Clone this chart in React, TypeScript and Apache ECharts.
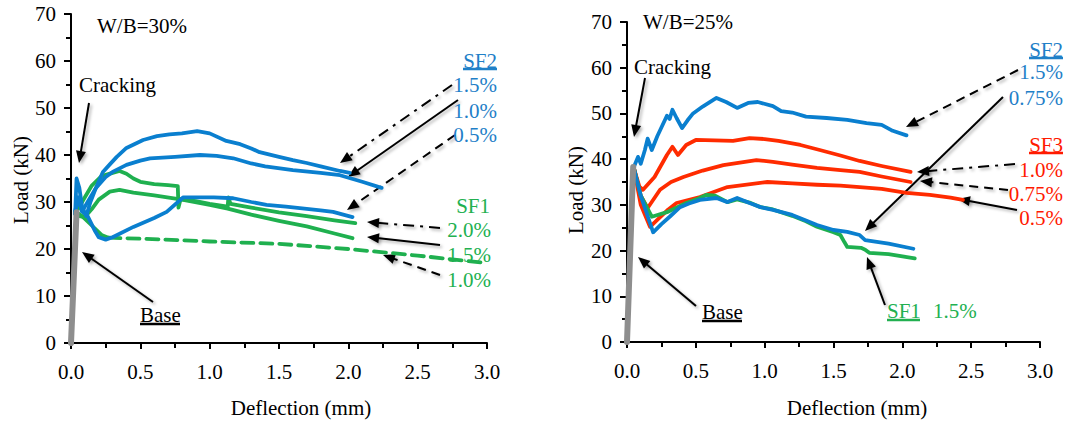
import React, { useEffect, useRef } from "react";
import * as echarts from "echarts";

// ---------- DATA (deflection mm, load kN) ----------
// Panel 1: W/B = 30%
const base30: number[][] = [[0, 0], [0.04, 27.8]];
const sf2_15_30: number[][] = [[0.03, 27.5], [0.04, 35], [0.06, 33], [0.08, 29], [0.11, 27], [0.14, 30], [0.18, 33], [0.23, 36.4], [0.28, 38], [0.33, 39.6], [0.4, 41.5], [0.52, 43.2], [0.62, 44], [0.71, 44.4], [0.8, 44.6], [0.91, 45.1], [1.0, 44.6], [1.12, 43], [1.22, 42.3], [1.3, 41.4], [1.36, 40.6], [1.5, 39.6], [1.6, 38.9], [1.7, 38.3], [1.8, 37.6], [1.94, 36.6], [2.01, 36.2]];
const sf2_10_30: number[][] = [[0.03, 27.5], [0.05, 31], [0.08, 28], [0.12, 30], [0.18, 33], [0.25, 35.3], [0.3, 36.4], [0.4, 37.9], [0.5, 38.8], [0.57, 39.3], [0.75, 39.6], [0.93, 40], [1.05, 39.8], [1.17, 39.3], [1.3, 38.2], [1.4, 37.6], [1.6, 36.8], [1.8, 36.2], [1.94, 35.7], [2.1, 34.3], [2.24, 33]];
const sf2_05_30: number[][] = [[0.03, 28], [0.05, 31], [0.08, 28], [0.12, 27], [0.17, 24], [0.2, 22.5], [0.25, 22], [0.3, 22.5], [0.45, 24.7], [0.6, 26.6], [0.69, 27.9], [0.81, 31], [0.9, 31], [1.03, 31], [1.17, 30.8], [1.3, 30], [1.41, 29.4], [1.55, 29], [1.65, 28.7], [1.8, 28.2], [1.89, 27.9], [2.03, 26.8]];
const sf1_20_30: number[][] = [[0.03, 27.5], [0.06, 29], [0.1, 31], [0.15, 33.5], [0.22, 35.5], [0.3, 36.2], [0.35, 36.6], [0.4, 36], [0.45, 35], [0.5, 34.3], [0.6, 33.8], [0.7, 33.6], [0.77, 33.4], [0.775, 28.8], [0.79, 30.6], [0.9, 30.2], [1.0, 29.6], [1.13, 29], [1.135, 31], [1.15, 29.6], [1.3, 28.8], [1.5, 27.8], [1.7, 27], [1.9, 26.1], [2.05, 25.5]];
const sf1_15_30: number[][] = [[0.03, 27.5], [0.06, 27], [0.1, 26.8], [0.15, 28.5], [0.2, 30.5], [0.28, 32.2], [0.35, 32.6], [0.45, 32], [0.6, 31.4], [0.8, 30.5], [1.0, 29.4], [1.13, 28.6], [1.3, 27.3], [1.5, 26], [1.7, 24.8], [1.9, 23.3], [2.03, 22.3]];
const sf1_10_30_drop: number[][] = [[0.03, 28], [0.08, 27], [0.15, 25], [0.22, 23], [0.27, 22.4]];
const sf1_10_30_tail: number[][] = [[0.27, 22.4], [0.5, 22.2], [1.0, 21.6], [1.5, 21.1], [2.0, 20.0], [2.5, 18.6], [3.0, 17.0]];

// Panel 2: W/B = 25%
const base25: number[][] = [[0, 0], [0.045, 38.3]];
const sf2_15_25: number[][] = [[0.05, 38.3], [0.08, 40.5], [0.1, 39], [0.13, 42], [0.15, 44.5], [0.18, 42], [0.22, 45], [0.29, 49.5], [0.31, 48.8], [0.33, 50.8], [0.36, 49], [0.4, 46.8], [0.44, 48.5], [0.48, 50], [0.55, 51.5], [0.65, 53.4], [0.72, 52.5], [0.8, 51.2], [0.88, 52.3], [0.95, 52.5], [1.06, 51.6], [1.12, 50.5], [1.2, 50.2], [1.3, 49.3], [1.45, 49], [1.6, 48.6], [1.74, 47.9], [1.85, 47.5], [1.93, 46.2], [2.03, 45.2]];
const sf2_075_25: number[][] = [[0.05, 38], [0.1, 32], [0.19, 24], [0.25, 25.8], [0.31, 27.4], [0.385, 29.5], [0.45, 30.3], [0.53, 31.1], [0.65, 31.5], [0.73, 30.6], [0.8, 31.5], [0.89, 30.4], [0.97, 29.5], [1.06, 28.9], [1.2, 27.8], [1.3, 26.6], [1.38, 25.6], [1.5, 24.5], [1.6, 24.1], [1.69, 23.4], [1.73, 22.3], [1.9, 21.5], [2.08, 20.4]];
const sf3_10_25: number[][] = [[0.05, 38], [0.09, 34], [0.116, 33.3], [0.2, 36.1], [0.29, 40.9], [0.33, 42.7], [0.37, 40.9], [0.43, 43.1], [0.5, 44.2], [0.77, 44], [0.89, 44.6], [1.0, 44.4], [1.1, 44], [1.26, 43.1], [1.4, 42], [1.55, 40.8], [1.69, 39.6], [1.85, 38.5], [2.06, 37.2]];
const sf3_075_25: number[][] = [[0.05, 38], [0.1, 32], [0.15, 29.3], [0.24, 33.3], [0.32, 35], [0.41, 36.1], [0.55, 37.5], [0.7, 38.7], [0.94, 39.8], [1.06, 39.4], [1.2, 38.8], [1.38, 38.1], [1.55, 37.6], [1.69, 37.2], [1.85, 36.2], [2.06, 35]];
const sf3_05_25: number[][] = [[0.05, 38], [0.1, 30], [0.167, 25.2], [0.22, 26.7], [0.3, 29], [0.36, 30.4], [0.53, 31.7], [0.73, 33.9], [1.02, 35], [1.2, 34.7], [1.38, 34.4], [1.55, 34.2], [1.69, 33.9], [1.85, 33.5], [2.03, 32.6], [2.2, 32.2], [2.35, 31.6], [2.44, 31.1]];
const sf1_15_25: number[][] = [[0.05, 38], [0.1, 32], [0.18, 27.4], [0.29, 28.4], [0.43, 30.4], [0.52, 31.4], [0.58, 32.2], [0.64, 32], [0.73, 30.6], [0.8, 31.2], [0.89, 30.5], [0.97, 29.5], [1.06, 29], [1.2, 27.6], [1.3, 26.4], [1.38, 25.2], [1.5, 24], [1.55, 23.4], [1.58, 21.8], [1.6, 20.8], [1.7, 20.6], [1.73, 20.2], [1.76, 19.5], [1.9, 19.2], [2.09, 18.3]];

// ---------- STYLE ----------
const BLUE = "#0a7fcf";
const BLUE_T = "#1f80c8";
const GREEN = "#1fb04f";
const GREEN_T = "#22b050";
const RED = "#ff2b00";
const RED_T = "#ff1a00";
const GRAY = "#8e8e8e";
const FONT = "'Liberation Serif', 'Times New Roman', 'DejaVu Serif', serif";
const FS = 21;

type Arrow = { x1: number; y1: number; x2: number; y2: number; dash: number[] | null };
const SOLID = null;
const DASH = [9, 6];
const DASHDOT = [11, 6, 3, 6];

const ARROWS: Arrow[] = [
  { x1: 89, y1: 103, x2: 79, y2: 163, dash: SOLID },
  { x1: 153, y1: 302, x2: 82, y2: 252, dash: SOLID },
  { x1: 452, y1: 85, x2: 340, y2: 163, dash: DASHDOT },
  { x1: 458, y1: 100, x2: 348, y2: 177, dash: SOLID },
  { x1: 455, y1: 135, x2: 347, y2: 210, dash: DASH },
  { x1: 440, y1: 228, x2: 367, y2: 222, dash: DASHDOT },
  { x1: 440, y1: 245, x2: 367, y2: 237, dash: SOLID },
  { x1: 440, y1: 275, x2: 383, y2: 255, dash: DASH },
  { x1: 645, y1: 78, x2: 634, y2: 137, dash: SOLID },
  { x1: 696, y1: 306, x2: 638, y2: 257, dash: SOLID },
  { x1: 1018, y1: 70, x2: 906, y2: 127, dash: DASH },
  { x1: 1003, y1: 97, x2: 865, y2: 231, dash: SOLID },
  { x1: 1015, y1: 164, x2: 917, y2: 172, dash: DASHDOT },
  { x1: 1008, y1: 190, x2: 920, y2: 181, dash: DASH },
  { x1: 1017, y1: 210, x2: 958, y2: 199, dash: SOLID },
  { x1: 885, y1: 305, x2: 867, y2: 257, dash: SOLID },
];

type Label = { text: string; x: number; y: number; color: string; align: "left" | "right" | "center"; underline?: [number, number, number]; rotate?: boolean };
const LABELS: Label[] = [
  { text: "W/B=30%", x: 97, y: 26, color: "#000", align: "left" },
  { text: "Cracking", x: 79, y: 85, color: "#000", align: "left" },
  { text: "Base", x: 140, y: 315, color: "#000", align: "left", underline: [140, 180, 324] },
  { text: "SF2", x: 497, y: 61, color: BLUE_T, align: "right", underline: [463, 497, 69] },
  { text: "1.5%", x: 497, y: 85, color: BLUE_T, align: "right" },
  { text: "1.0%", x: 497, y: 111, color: BLUE_T, align: "right" },
  { text: "0.5%", x: 497, y: 135, color: BLUE_T, align: "right" },
  { text: "SF1", x: 490, y: 206, color: GREEN_T, align: "right" },
  { text: "2.0%", x: 491, y: 230, color: GREEN_T, align: "right" },
  { text: "1.5%", x: 491, y: 255, color: GREEN_T, align: "right" },
  { text: "1.0%", x: 491, y: 280, color: GREEN_T, align: "right" },
  { text: "Deflection (mm)", x: 301, y: 408, color: "#000", align: "center" },
  { text: "Load (kN)", x: 21, y: 180, color: "#000", align: "center", rotate: true },
  { text: "W/B=25%", x: 643, y: 22, color: "#000", align: "left" },
  { text: "Cracking", x: 634, y: 67, color: "#000", align: "left" },
  { text: "Base", x: 702, y: 312, color: "#000", align: "left", underline: [702, 742, 321] },
  { text: "SF2", x: 1063, y: 50, color: BLUE_T, align: "right", underline: [1029, 1063, 58] },
  { text: "1.5%", x: 1063, y: 72, color: BLUE_T, align: "right" },
  { text: "0.75%", x: 1063, y: 98, color: BLUE_T, align: "right" },
  { text: "SF3", x: 1063, y: 145, color: RED_T, align: "right", underline: [1029, 1063, 153] },
  { text: "1.0%", x: 1063, y: 170, color: RED_T, align: "right" },
  { text: "0.75%", x: 1063, y: 194, color: RED_T, align: "right" },
  { text: "0.5%", x: 1063, y: 218, color: RED_T, align: "right" },
  { text: "SF1", x: 887, y: 311, color: GREEN_T, align: "left", underline: [887, 920, 320] },
  { text: "1.5%", x: 933, y: 311, color: GREEN_T, align: "left" },
  { text: "Deflection (mm)", x: 857, y: 408, color: "#000", align: "center" },
  { text: "Load (kN)", x: 576, y: 190, color: "#000", align: "center", rotate: true },
];

function arrowGraphics(a: Arrow) {
  const dx = a.x2 - a.x1;
  const dy = a.y2 - a.y1;
  const len = Math.sqrt(dx * dx + dy * dy);
  const ux = dx / len;
  const uy = dy / len;
  const hl = 12;
  const hw = 5;
  const bx = a.x2 - ux * hl;
  const by = a.y2 - uy * hl;
  const nx = -uy;
  const ny = ux;
  const shadow = { shadowBlur: 3, shadowColor: "rgba(0,0,0,0.3)", shadowOffsetX: 2, shadowOffsetY: 2 };
  return [
    {
      type: "line",
      shape: { x1: a.x1, y1: a.y1, x2: bx + ux * 2, y2: by + uy * 2 },
      style: { stroke: "#000", lineWidth: 2, lineDash: a.dash || undefined, ...shadow },
      silent: true,
    },
    {
      type: "polygon",
      shape: { points: [[a.x2, a.y2], [bx + nx * hw, by + ny * hw], [bx - nx * hw, by - ny * hw]] },
      style: { fill: "#000", ...shadow },
      silent: true,
    },
  ];
}

function labelGraphics(l: Label) {
  const els: any[] = [
    {
      type: "text",
      x: l.x,
      y: l.y,
      rotation: l.rotate ? Math.PI / 2 : 0,
      style: {
        text: l.text,
        fill: l.color,
        fontFamily: FONT,
        fontSize: FS,
        textAlign: l.align,
        textVerticalAlign: "middle",
        verticalAlign: "middle",
      },
      silent: true,
    },
  ];
  if (l.underline) {
    els.push({
      type: "line",
      shape: { x1: l.underline[0], y1: l.underline[2], x2: l.underline[1], y2: l.underline[2] },
      style: { stroke: l.color, lineWidth: 2.5 },
      silent: true,
    });
  }
  return els;
}

function xAxisCfg(gridIndex: number) {
  return {
    type: "value",
    gridIndex,
    min: 0,
    max: 3,
    interval: 0.5,
    axisLine: { show: true, onZero: false, lineStyle: { color: "#000", width: 2 } },
    axisTick: { show: true, length: 6, lineStyle: { color: "#000", width: 2 } },
    minorTick: { show: true, splitNumber: 2, length: 5, lineStyle: { color: "#000", width: 2 } },
    splitLine: { show: false },
    minorSplitLine: { show: false },
    axisLabel: { formatter: (v: number) => v.toFixed(1), color: "#000", fontFamily: FONT, fontSize: FS, margin: 18 },
  };
}
function yAxisCfg(gridIndex: number) {
  return {
    type: "value",
    gridIndex,
    min: 0,
    max: 70,
    interval: 10,
    axisLine: { show: true, onZero: false, lineStyle: { color: "#000", width: 2 } },
    axisTick: { show: true, length: 7, lineStyle: { color: "#000", width: 2 } },
    minorTick: { show: true, splitNumber: 2, length: 5, lineStyle: { color: "#000", width: 2 } },
    splitLine: { show: false },
    minorSplitLine: { show: false },
    axisLabel: { color: "#000", fontFamily: FONT, fontSize: FS, margin: 15 },
  };
}

function line(data: number[][], idx: number, color: string, width = 3.8, dash: any = "solid", z = 2) {
  return {
    type: "line",
    xAxisIndex: idx,
    yAxisIndex: idx,
    data,
    symbol: "none",
    smooth: false,
    z,
    lineStyle: { color, width, type: dash, cap: "round", join: "round" },
    silent: true,
  };
}

export default function App() {
  const ref = useRef<HTMLDivElement>(null);
  useEffect(() => {
    if (!ref.current) return;
    const chart = echarts.init(ref.current, undefined, { renderer: "svg" });
    const graphics: any[] = [];
    ARROWS.forEach((a) => graphics.push(...arrowGraphics(a)));
    LABELS.forEach((l) => graphics.push(...labelGraphics(l)));
    chart.setOption({
      animation: false,
      backgroundColor: "#fff",
      textStyle: { fontFamily: FONT },
      grid: [
        { left: 71, top: 14, width: 416, height: 329 },
        { left: 627, top: 22, width: 413, height: 320 },
      ],
      xAxis: [xAxisCfg(0), xAxisCfg(1)],
      yAxis: [yAxisCfg(0), yAxisCfg(1)],
      series: [
        line(sf1_10_30_drop, 0, GREEN),
        line(sf1_10_30_tail, 0, GREEN, 3.8, [12, 7]),
        line(sf1_15_30, 0, GREEN),
        line(sf1_20_30, 0, GREEN),
        line(sf2_05_30, 0, BLUE),
        line(sf2_10_30, 0, BLUE),
        line(sf2_15_30, 0, BLUE),
        line(base30, 0, GRAY, 6, "solid", 3),
        line(sf3_05_25, 1, RED),
        line(sf3_075_25, 1, RED),
        line(sf3_10_25, 1, RED),
        line(sf1_15_25, 1, GREEN),
        line(sf2_075_25, 1, BLUE),
        line(sf2_15_25, 1, BLUE),
        line(base25, 1, GRAY, 6, "solid", 3),
      ],
      graphic: graphics,
    });
    return () => chart.dispose();
  }, []);
  return <div ref={ref} style={{ position: "absolute", left: 0, top: 0, width: 1066, height: 421 }} />;
}
